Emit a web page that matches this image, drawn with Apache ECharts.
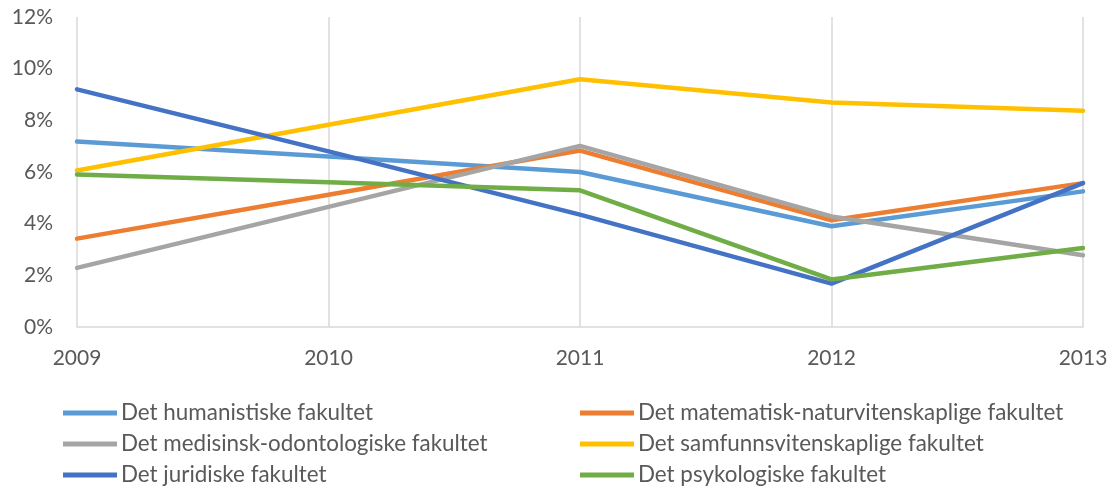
<!DOCTYPE html>
<html><head><meta charset="utf-8">
<script src="https://cdn.jsdelivr.net/npm/echarts@6/dist/echarts.min.js"></script>
<style>html,body{margin:0;padding:0;background:#fff}#c{width:1111px;height:488px}</style>
</head><body><div id="c"></div>
<script>
const years = ['2009', '2010', '2011', '2012', '2013'];
const seriesNames = [
  'Det humanistiske fakultet',
  'Det matematisk-naturvitenskaplige fakultet',
  'Det medisinsk-odontologiske fakultet',
  'Det samfunnsvitenskaplige fakultet',
  'Det juridiske fakultet',
  'Det psykologiske fakultet'
];
const humanistiske = [0.0718, 0.0660, 0.0600, 0.0390, 0.0525];
const matnat = [0.0342, 0.0512, 0.0683, 0.0413, 0.0557];
const medisin = [0.0229, 0.0465, 0.0701, 0.0428, 0.0278];
const samfunn = [0.0606, 0.0783, 0.0959, 0.0869, 0.0837];
const juridiske = [0.0920, 0.0680, 0.0435, 0.0168, 0.0557];
const psykologi = [0.0590, 0.0560, 0.0529, 0.0184, 0.0306];
const yTicks = ['0%', '2%', '4%', '6%', '8%', '10%', '12%'];
const colors = ['#5B9BD5', '#ED7D31', '#A5A5A5', '#FFC000', '#4472C4', '#70AD47'];
const allData = [humanistiske, matnat, medisin, samfunn, juridiske, psykologi];

const font = 'Lato';
const txt = '#595959';
const chart = echarts.init(document.getElementById('c'), null, {renderer: 'canvas'});
const legendCommon = {
  orient: 'vertical', top: 401, height: 87, padding: 0, icon: 'rect', itemWidth: 54, itemHeight: 5,
  itemGap: 7, textStyle: {fontFamily: font, fontSize: 22.4, lineHeight: 24, color: txt, padding: [0, 0, 0, -1]}
};
chart.setOption({
  animation: false,
  color: colors,
  grid: {left: 77, right: 28, top: 17, bottom: 161, containLabel: false},
  legend: [
    Object.assign({left: 63, data: [seriesNames[0], seriesNames[2], seriesNames[4]]}, legendCommon),
    Object.assign({left: 580, data: [seriesNames[1], seriesNames[3], seriesNames[5]]}, legendCommon)
  ],
  xAxis: {
    type: 'category', data: years, boundaryGap: false,
    axisLine: {lineStyle: {color: '#d9d9d9', width: 1.5}},
    axisTick: {show: false},
    splitLine: {show: true, lineStyle: {color: '#d9d9d9', width: 1.5}},
    axisLabel: {fontFamily: font, fontSize: 21, color: txt, margin: 21}
  },
  yAxis: {
    type: 'value', min: 0, max: 0.12, interval: 0.02,
    axisLine: {show: false}, axisTick: {show: false}, splitLine: {show: false},
    axisLabel: {fontFamily: font, fontSize: 21, color: txt, margin: 24,
      formatter: v => yTicks[Math.round(v / 0.02)]}
  },
  series: allData.map((d, i) => ({
    name: seriesNames[i], type: 'line', data: d, symbol: 'none',
    lineStyle: {width: 4.5, color: colors[i], cap: 'round', join: 'round'},
    itemStyle: {color: colors[i]}
  }))
});
</script></body></html>
